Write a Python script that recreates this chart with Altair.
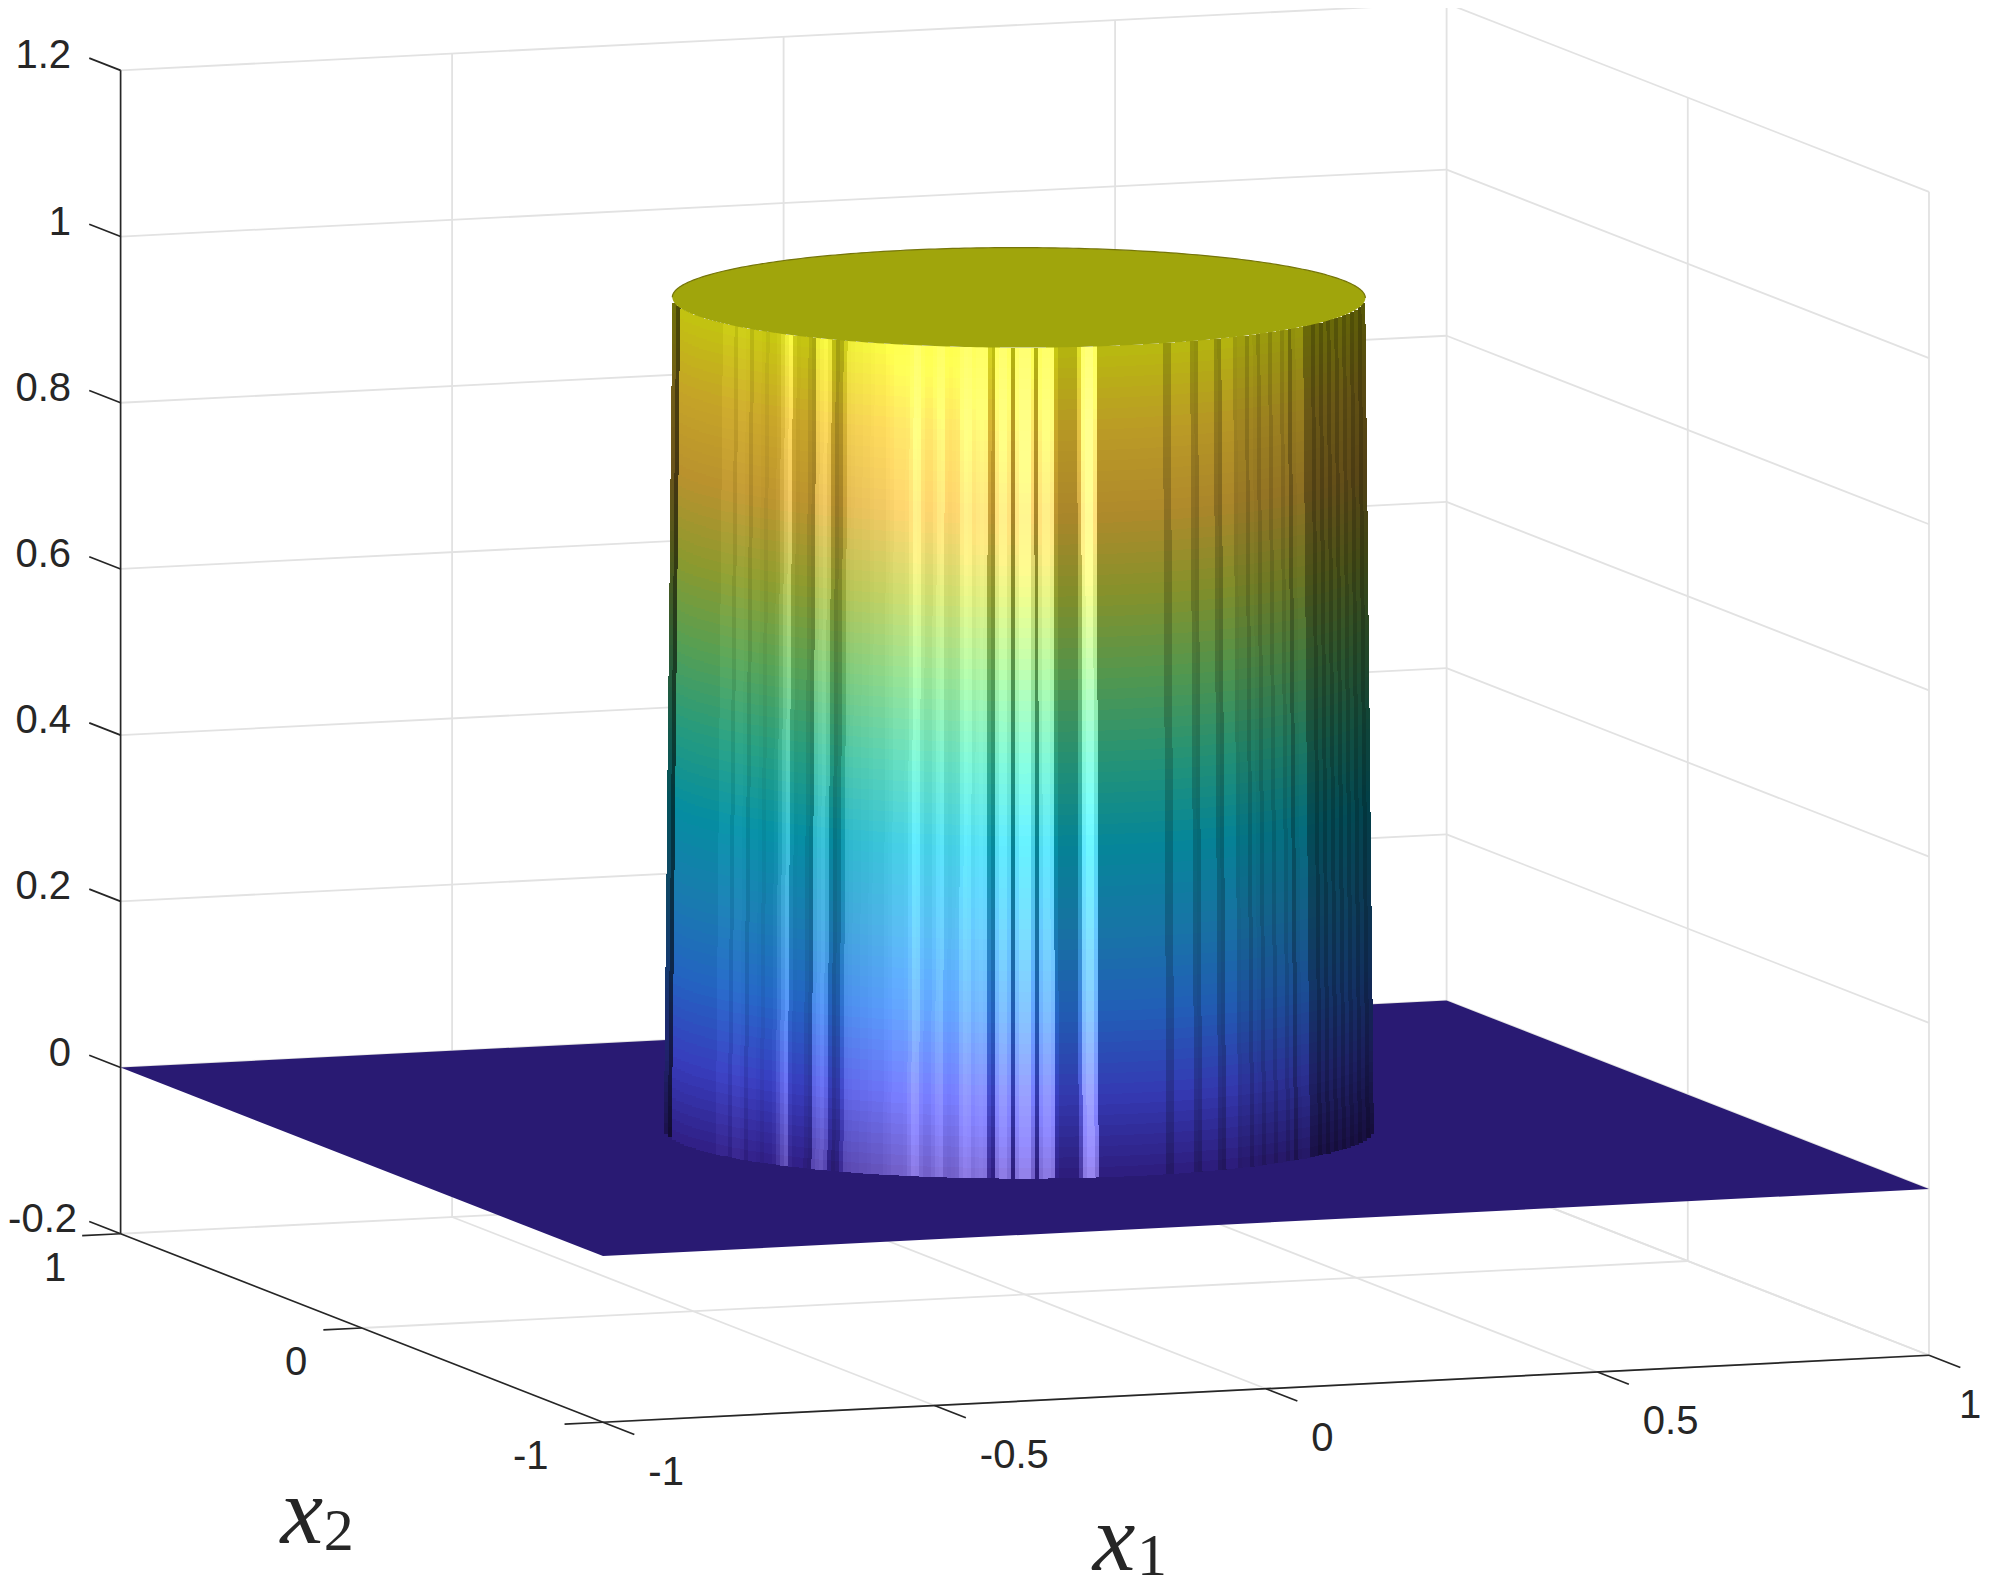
import numpy as np
import pandas as pd
import altair as alt

alt.data_transformers.disable_max_rows()

# ---- chart values ----
X1_TICKS = [-1, -0.5, 0, 0.5, 1]
X1_LABELS = ["-1", "-0.5", "0", "0.5", "1"]
X2_TICKS = [-1, 0, 1]
X2_LABELS = ["-1", "0", "1"]
Z_TICKS = [-0.2, 0, 0.2, 0.4, 0.6, 0.8, 1, 1.2]
Z_LABELS = ["-0.2", "0", "0.2", "0.4", "0.6", "0.8", "1", "1.2"]

# parula colormap anchors (value, r, g, b)
CMAP_V = [0, .1, .2, .3, .4, .5, .6, .7, .8, .9, 1]
CMAP_R = [.2422, .2777, .1786, .1248, .0265, .19, .43, .70, .93, .99, .9769]
CMAP_G = [.1504, .3077, .50, .62, .71, .78, .80, .77, .73, .82, .9839]
CMAP_B = [.6603, .9485, .97, .88, .81, .63, .42, .23, .23, .20, .0805]

# lit shade of each facet of the disc wall, left to right
FACET_SHADE = (
    [.45, .30] + [.78] * 11
    + [.82, .82, .82, .76, .83, .83, .82, .74, .81, .81, .80, .76, .80, .80, .82, .88]
    + [.95, 1.0, .82, .78, .79, .79, .72, .68, .95, .98, 1.0, .95, .76, .65, .70, .84]
    + [.95, .96, .97, .97, .98, .98, .99, 1.0, 1.0, 1.0, 1.02, 1.03]
    + [1.05, 1.05, 1.05, 1.06, 1.10, 1.16, 1.15, 1.08, 1.05, 1.05, 1.08, 1.12, 1.13]
    + [1.05, 1.04, 1.05, 1.06, 1.13, 1.16, 1.15, 1.10, 1.12, 1.13, 1.12, .85, .76]
    + [1.10, 1.16, 1.16, 1.10, .72, 1.12, 1.18, 1.18, 1.18, 1.05, .72]
    + [1.10, 1.15, 1.15, 1.12, .80] + [.72] * 5 + [.90, 1.15, 1.20, 1.20, 1.10]
    + [.74] * 17 + [.60, .60] + [.74] * 5 + [.60, .58] + [.72] * 4 + [.58, .55]
    + [.72, .72, .72, .62, .64, .64, .55, .64, .62, .54, .62, .62, .54, .62, .62, .54]
    + [.60, .45, .58, .60, .60, .42, .42, .34, .42, .34, .42, .34, .42, .34, .42, .34]
    + [.40, .32, .38, .30, .35]
)
PLATE_COLOR = "#291a73"
CAP_COLOR = "#a0a50c"
RIM_COLOR = "#75750a"
GRID_COLOR = "#e2e2e2"
AXIS_COLOR = "#262626"
TEXT_COLOR = "#262626"
DISC_RADIUS = 0.5
DISC_CENTER = (-0.009, 0.0)

# ---- view of the 3-D box (screen pixels per data unit) ----
E1 = (663.0, -33.5)
E2 = (-241.2, -94.25)
E3 = (0.0, -831.0)
ORIGIN = (1024.8, 1128.3)
W, H = 1982, 1579
M = 8


def project(a, b, c):
    return (ORIGIN[0] + a * E1[0] + b * E2[0] + c * E3[0],
            ORIGIN[1] + a * E1[1] + b * E2[1] + c * E3[1])


def segs(items):
    rows = []
    for i, (p, q) in enumerate(items):
        for pt in (p, q):
            rows.append({"g": i, "px": pt[0], "py": pt[1]})
    return pd.DataFrame(rows)


xs = alt.X("px:Q", scale=alt.Scale(domain=[M, W]), axis=None)
ys = alt.Y("py:Q", scale=alt.Scale(domain=[H, M]), axis=None)

ZMIN, ZMAX = -0.2, 1.2
# grid
grid = []
for z in Z_TICKS:
    grid.append((project(-1, 1, z), project(1, 1, z)))
    grid.append((project(1, 1, z), project(1, -1, z)))
for a in X1_TICKS[1:]:
    grid.append((project(a, 1, ZMIN), project(a, 1, ZMAX)))
    grid.append((project(a, -1, ZMIN), project(a, 1, ZMIN)))
for b in X2_TICKS[:-1]:
    grid.append((project(1, b, ZMIN), project(1, b, ZMAX)))
    grid.append((project(-1, b, ZMIN), project(1, b, ZMIN)))
grid_layer = alt.Chart(segs(grid)).mark_line(color=GRID_COLOR, strokeWidth=1.8).encode(
    x=xs, y=ys, detail="g:N")

# axes and ticks
axes = [
    (project(-1, 1, ZMIN), project(-1, 1, ZMAX)),
    (project(-1, 1, ZMIN), project(-1, -1, ZMIN)),
    (project(-1, -1, ZMIN), project(1, -1, ZMIN)),
]
Z_TICK_LEN = 0.13
X1_TICK_LEN = 0.13
X2_TICK_LEN = 0.058
for z in Z_TICKS:
    axes.append((project(-1, 1, z), project(-1, 1 + Z_TICK_LEN, z)))
for a in X1_TICKS:
    axes.append((project(a, -1, ZMIN), project(a, -1 - X1_TICK_LEN, ZMIN)))
for b in X2_TICKS:
    axes.append((project(-1, b, ZMIN), project(-1 - X2_TICK_LEN, b, ZMIN)))
axes_layer = alt.Chart(segs(axes)).mark_line(color=AXIS_COLOR, strokeWidth=1.7).encode(
    x=xs, y=ys, detail="g:N")

# plate at z = 0
pL, pF, pR, pB = project(-1, 1, 0), project(-1, -1, 0), project(1, -1, 0), project(1, 1, 0)
upper = lambda x: np.interp(x, [pL[0], pB[0], pR[0]], [pL[1], pB[1], pR[1]])
lower = lambda x: np.interp(x, [pL[0], pF[0], pR[0]], [pL[1], pF[1], pR[1]])
plate_x = [pL[0], pF[0], pB[0], pR[0]]
plate = pd.DataFrame({"px": plate_x, "py": [float(upper(v)) for v in plate_x],
                      "py2": [float(lower(v)) for v in plate_x]})
plate_layer = alt.Chart(plate).mark_area(color=PLATE_COLOR, interpolate="linear").encode(
    x=xs, y=ys, y2="py2:Q")

# disc wall
cx, cy = project(DISC_CENTER[0], DISC_CENTER[1], 0)
phi_x = np.arctan2(E2[0], E1[0])


def rim_dy(u):
    t = np.arccos(np.clip(u, -1, 1))
    out = []
    for s in (1, -1):
        th = phi_x + s * t
        out.append(DISC_RADIUS * (E1[1] * np.cos(th) + E2[1] * np.sin(th)))
    return min(out), max(out)


def half_width(z):
    return 355.0 - 8.5 * z


def shade(c, level):
    k = min(level, 0.8)
    s = max(level - 0.8, 0.0)
    return min(255, int(round(255 * (c * k + s))))


n_col = len(FACET_SHADE)
u_edges = np.linspace(-1, 1, n_col + 1)
z_levels = np.linspace(0, 1, 81)
rows = []
for i, level in enumerate(FACET_SHADE):
    um = 0.5 * (u_edges[i] + u_edges[i + 1])
    base = cy + rim_dy(um)[1]
    overlap = 1 if i < n_col - 1 else 0
    for j in range(len(z_levels) - 1):
        z0, z1 = z_levels[j], z_levels[j + 1]
        zm = 0.5 * (z0 + z1)
        col = [shade(float(np.interp(zm, CMAP_V, ch)), level) for ch in (CMAP_R, CMAP_G, CMAP_B)]
        rows.append({
            "px": round(cx + u_edges[i] * half_width(zm)),
            "px2": round(cx + u_edges[i + 1] * half_width(zm)) + overlap,
            "py": round(base + E3[1] * z1),
            "py2": round(base + E3[1] * z0),
            "fill": "#%02x%02x%02x" % tuple(col),
        })
wall_layer = alt.Chart(pd.DataFrame(rows)).mark_rect(strokeWidth=0).encode(
    x=xs, x2="px2:Q", y=ys, y2="py2:Q", fill=alt.Fill("fill:N", scale=None))

# disc top
us = np.cos(np.linspace(np.pi, 0, 181))
cap = pd.DataFrame({
    "px": [cx + u * half_width(1) for u in us],
    "py": [cy + E3[1] + rim_dy(u)[0] for u in us],
    "py2": [cy + E3[1] + rim_dy(u)[1] for u in us],
})
cap_layer = alt.Chart(cap).mark_area(color=CAP_COLOR, interpolate="linear").encode(
    x=xs, y=ys, y2="py2:Q")
rim_layer = alt.Chart(cap).mark_line(color=RIM_COLOR, strokeWidth=1.2).encode(x=xs, y=ys)

# tick labels
font = "Liberation Sans"
FS = 40


def text_layer(df, align, size=FS, family=font, style="normal"):
    return alt.Chart(df).mark_text(align=align, baseline="middle", font=family, fontSize=size,
                                   fontStyle=style, color=TEXT_COLOR).encode(
        x=xs, y=ys, text="t:N")


z_lab = pd.DataFrame([{"px": 71 + (6 if t.startswith("-") else 0),
                       "py": project(-1, 1, z)[1] - 14, "t": t}
                      for z, t in zip(Z_TICKS, Z_LABELS)])
x1_lab = pd.DataFrame([{"px": min(project(a, -1 - X1_TICK_LEN, ZMIN)[0] + 14, W - 23),
                        "py": project(a, -1 - X1_TICK_LEN, ZMIN)[1] + 38, "t": t}
                       for a, t in zip(X1_TICKS, X1_LABELS)])
x2_lab = pd.DataFrame([{"px": project(-1 - X2_TICK_LEN, b, ZMIN)[0] - 16,
                        "py": project(-1 - X2_TICK_LEN, b, ZMIN)[1] + 33, "t": t}
                       for b, t in zip(X2_TICKS, X2_LABELS)])

# axis titles
serif = "Liberation Serif"
m1 = project(0, -1, ZMIN)
m2 = project(-1, 0, ZMIN)
title_x = pd.DataFrame([
    {"px": m1[0] - 152, "py": m1[1] + 152, "t": "x"},
    {"px": m2[0] - 60, "py": m2[1] + 186, "t": "x"},
])
title_sub = pd.DataFrame([
    {"px": m1[0] - 114, "py": m1[1] + 168, "t": "1"},
    {"px": m2[0] - 23, "py": m2[1] + 204, "t": "2"},
])

chart = alt.layer(
    grid_layer, axes_layer, plate_layer, wall_layer, cap_layer, rim_layer,
    text_layer(z_lab, "right"), text_layer(x1_lab, "left"), text_layer(x2_lab, "right"),
    text_layer(title_x, "center", 96, serif, "italic"),
    text_layer(title_sub, "center", 60, serif),
).properties(
    width=W - M, height=H - M, padding=0,
    autosize=alt.AutoSizeParams(type="none"),
    background="white",
).configure_view(stroke=None)

chart.save("out.html", embed_options={"renderer": "svg", "actions": False})
